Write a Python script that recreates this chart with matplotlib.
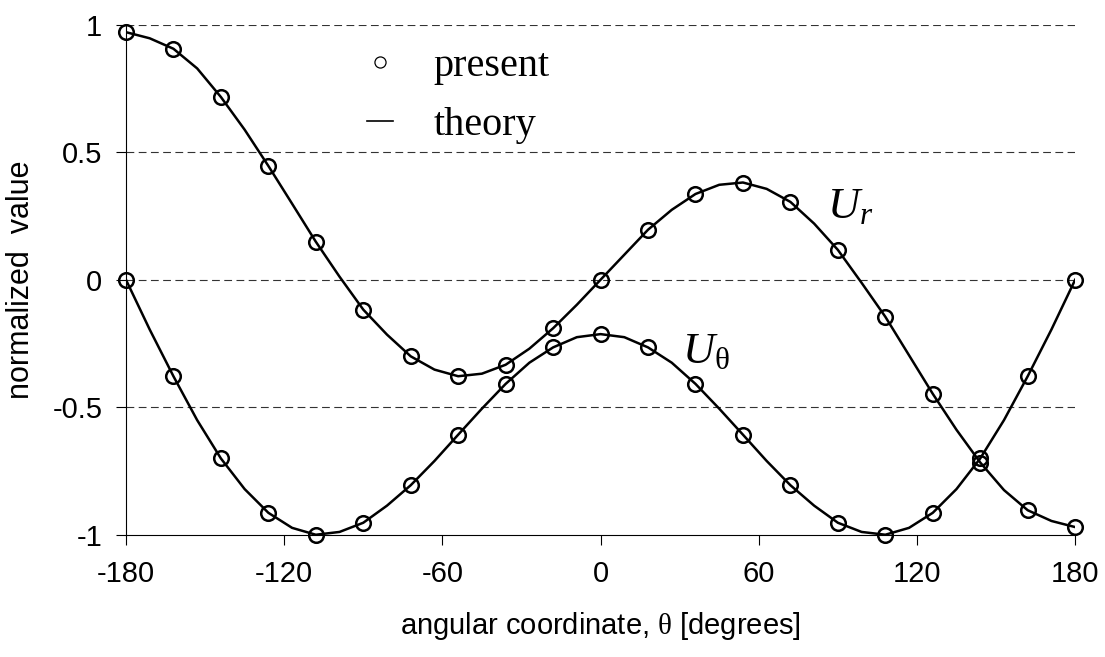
import numpy as np
import matplotlib
matplotlib.use("Agg")
import matplotlib.pyplot as plt
from matplotlib.lines import Line2D
from matplotlib.ticker import FuncFormatter

# present (computed) points, every 18 degrees
theta_pts = [-180, -162, -144, -126, -108, -90, -72, -54, -36, -18, 0,
             18, 36, 54, 72, 90, 108, 126, 144, 162, 180]
ur_pts = [0.97, 0.905, 0.716, 0.446, 0.149, -0.117, -0.30, -0.378, -0.333, -0.19, 0.0,
          0.196, 0.336, 0.381, 0.305, 0.117, -0.145, -0.447, -0.718, -0.903, -0.969]
ut_pts = [0.0, -0.378, -0.70, -0.913, -1.0, -0.952, -0.805, -0.607, -0.408, -0.265, -0.213,
          -0.265, -0.408, -0.607, -0.805, -0.952, -1.0, -0.913, -0.70, -0.378, 0.0]

# theory curves, read every 9 degrees
theta_th = [-180, -171, -162, -153, -144, -135, -126, -117, -108, -99, -90,
            -81, -72, -63, -54, -45, -36, -27, -18, -9, 0,
            9, 18, 27, 36, 45, 54, 63, 72, 81, 90,
            99, 108, 117, 126, 135, 144, 153, 162, 171, 180]
ur_th = [0.970, 0.946, 0.905, 0.828, 0.716, 0.588, 0.446, 0.298, 0.149, 0.012, -0.117,
         -0.215, -0.300, -0.352, -0.378, -0.368, -0.333, -0.270, -0.190, -0.098, 0.0,
         0.098, 0.196, 0.274, 0.336, 0.372, 0.381, 0.356, 0.305, 0.220, 0.117,
         -0.012, -0.145, -0.296, -0.447, -0.588, -0.716, -0.824, -0.903, -0.945, -0.969]
ut_th = [0.0, -0.195, -0.378, -0.550, -0.700, -0.820, -0.913, -0.972, -0.999, -0.988, -0.952,
         -0.885, -0.805, -0.710, -0.607, -0.505, -0.408, -0.325, -0.265, -0.225, -0.213,
         -0.225, -0.265, -0.325, -0.408, -0.505, -0.607, -0.710, -0.805, -0.885, -0.952,
         -0.988, -0.999, -0.972, -0.913, -0.820, -0.700, -0.550, -0.378, -0.195, 0.0]

xticks = [-180, -120, -60, 0, 60, 120, 180]
yticks = [-1, -0.5, 0, 0.5, 1]

plt.rcParams['font.family'] = ['Liberation Sans', 'DejaVu Sans']
plt.rcParams['axes.unicode_minus'] = False
plt.rcParams['mathtext.fontset'] = 'custom'
plt.rcParams['mathtext.rm'] = 'Liberation Serif'
plt.rcParams['mathtext.it'] = 'Liberation Serif:italic'

fig = plt.figure(figsize=(11.05, 6.57), dpi=100)
ax = fig.add_axes([0.114, 0.1857, 0.859, 0.777])

# dashed horizontal grid
for yv in yticks[1:]:
    ax.axhline(yv, color='#333333', lw=0.8, ls=(0, (7, 4)), zorder=1)

# theory lines
ax.plot(theta_th, ur_th, color='k', lw=1.8, zorder=2)
ax.plot(theta_th, ut_th, color='k', lw=1.8, zorder=2)

# present markers
for ys in (ur_pts, ut_pts):
    ax.plot(theta_pts, ys, ls='none', marker='o', ms=10.5, mfc='none',
            mec='k', mew=1.8, clip_on=False, zorder=3)

ax.set_xlim(-180, 180)
ax.set_ylim(-1, 1)
ax.set_xticks(xticks)
ax.set_yticks(yticks)
ax.yaxis.set_major_formatter(FuncFormatter(lambda v, p: '%g' % v))
ax.xaxis.set_major_formatter(FuncFormatter(lambda v, p: '%g' % v))
ax.tick_params(axis='both', direction='out', length=7, width=0.8, labelsize=21)
ax.tick_params(axis='y', pad=10)
ax.tick_params(axis='x', pad=11)

for s in ('top', 'right'):
    ax.spines[s].set_visible(False)
for s in ('left', 'bottom'):
    ax.spines[s].set_linewidth(0.8)

ax.set_xlabel(r'angular coordinate, $\mathrm{\theta}$ [degrees]', fontsize=21, labelpad=16)
ax.set_ylabel('normalized  value', fontsize=22, labelpad=12)

# curve labels
ax.text(86, 0.243, r'$U_r$', fontsize=32, ha='left', va='baseline')
ax.text(31, -0.325, r'$U_{\mathrm{\theta}}$', fontsize=32, ha='left', va='baseline')

handles = [Line2D([], [], ls='none', marker='o', ms=8, mfc='none', mec='k', mew=0.9),
           Line2D([], [], color='k', lw=1.2)]
ax.legend(handles, ['present', 'theory'], loc='upper left', bbox_to_anchor=(0.254, 0.955),
          frameon=False, prop={'family': 'Liberation Serif', 'size': 29},
          handlelength=0.65, handletextpad=1.0, labelspacing=0.55,
          borderpad=0, borderaxespad=0)

plt.savefig('out.png', dpi=100)
